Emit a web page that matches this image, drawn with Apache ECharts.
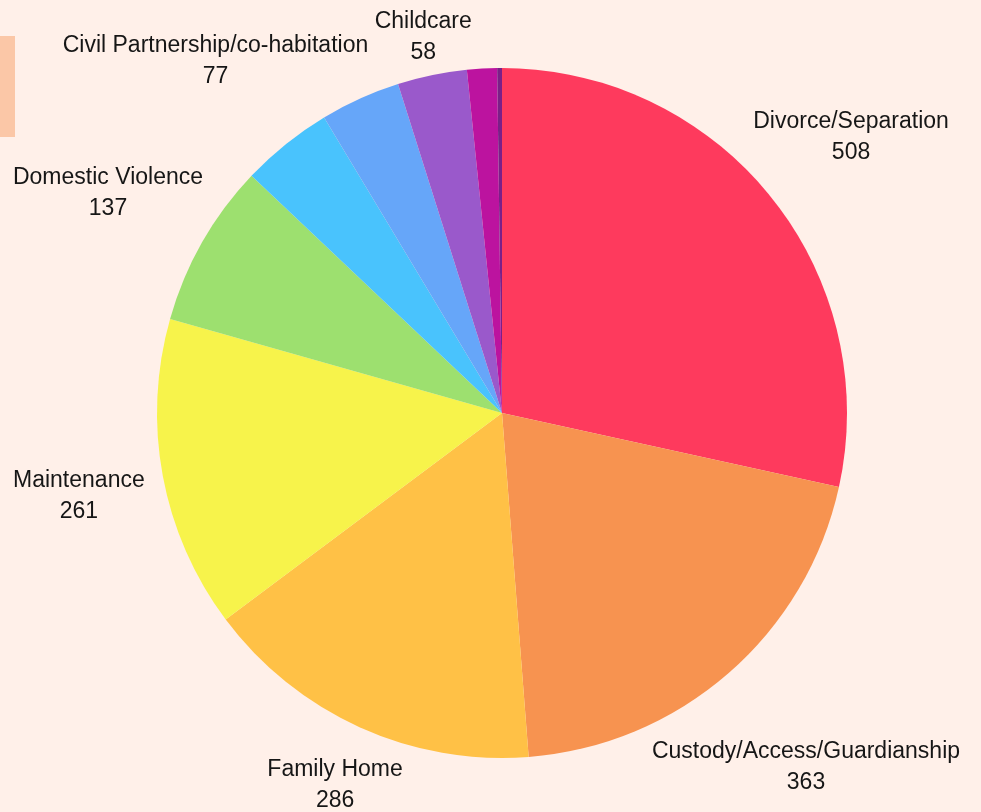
<!DOCTYPE html>
<html>
<head>
<meta charset="utf-8">
<style>
  html, body { margin: 0; padding: 0; background: #fff0e9; }
  #chart { width: 981px; height: 812px; }
</style>
<script src="https://cdn.jsdelivr.net/npm/echarts@6/dist/echarts.min.js"></script>
</head>
<body>
<div id="chart"></div>
<script>
const categories = [
  'Divorce/Separation',
  'Custody/Access/Guardianship',
  'Family Home',
  'Maintenance',
  'Domestic Violence',
  'Civil Partnership/co-habitation',
  'Other',
  'Childcare',
  'Nullity',
  'Adoption'
];
const values = [508, 363, 286, 261, 137, 77, 67, 58, 25, 4];
const labelled = [true, true, true, true, true, true, false, true, false, false];
const colors = ['#fe3a5d', '#f79350', '#ffc146', '#f7f34b', '#9de06f', '#49c3fd', '#66a6f9', '#9a59cb', '#bc139f', '#7b1f88'];

const CX = 502, CY = 413, R = 345, LABEL_GAP = 17, BOX_H = 40, Y_SHIFT = 4.5;
const total = values.reduce((a, b) => a + b, 0);
const cum = [];
values.reduce((acc, v, i) => { cum[i] = acc; return acc + v; }, 0);

function labelPos(i, w) {
  const ang = (90 - (cum[i] + values[i] / 2) / total * 360) * Math.PI / 180;
  const c = Math.cos(ang), s = Math.sin(ang);
  const target = R + LABEL_GAP;
  let lo = 0, hi = 1500;
  for (let k = 0; k < 60; k++) {
    const d = (lo + hi) / 2;
    const px = Math.max(0, d * Math.abs(c) - w / 2);
    const py = Math.max(0, d * Math.abs(s) - BOX_H / 2);
    if (Math.hypot(px, py) < target) lo = d; else hi = d;
  }
  const d = (lo + hi) / 2;
  return { x: CX + d * c, y: CY - d * s + Y_SHIFT };
}

const chart = echarts.init(document.getElementById('chart'));
chart.setOption({
  backgroundColor: '#fff0e9',
  animation: false,
  color: colors,
  graphic: [{
    type: 'rect',
    left: 0, top: 36,
    shape: { width: 15, height: 101 },
    style: { fill: '#fbc7a7' }
  }],
  series: [{
    type: 'pie',
    center: [CX, CY],
    radius: R,
    startAngle: 90,
    clockwise: true,
    avoidLabelOverlap: false,
    itemStyle: { borderWidth: 0 },
    label: {
      show: true,
      position: 'outside',
      formatter: '{b}\n{c}',
      fontFamily: 'Liberation Sans, Arial, sans-serif',
      fontSize: 23,
      lineHeight: 31,
      color: '#161616',
      align: 'center'
    },
    labelLine: { show: false },
    labelLayout: function (params) {
      const p = labelPos(params.dataIndex, params.labelRect.width);
      return { x: p.x, y: p.y, align: 'center', verticalAlign: 'middle' };
    },
    emphasis: { disabled: true },
    data: categories.map((name, i) => ({
      name: name,
      value: values[i],
      label: { show: labelled[i] }
    }))
  }]
});
</script>
</body>
</html>
